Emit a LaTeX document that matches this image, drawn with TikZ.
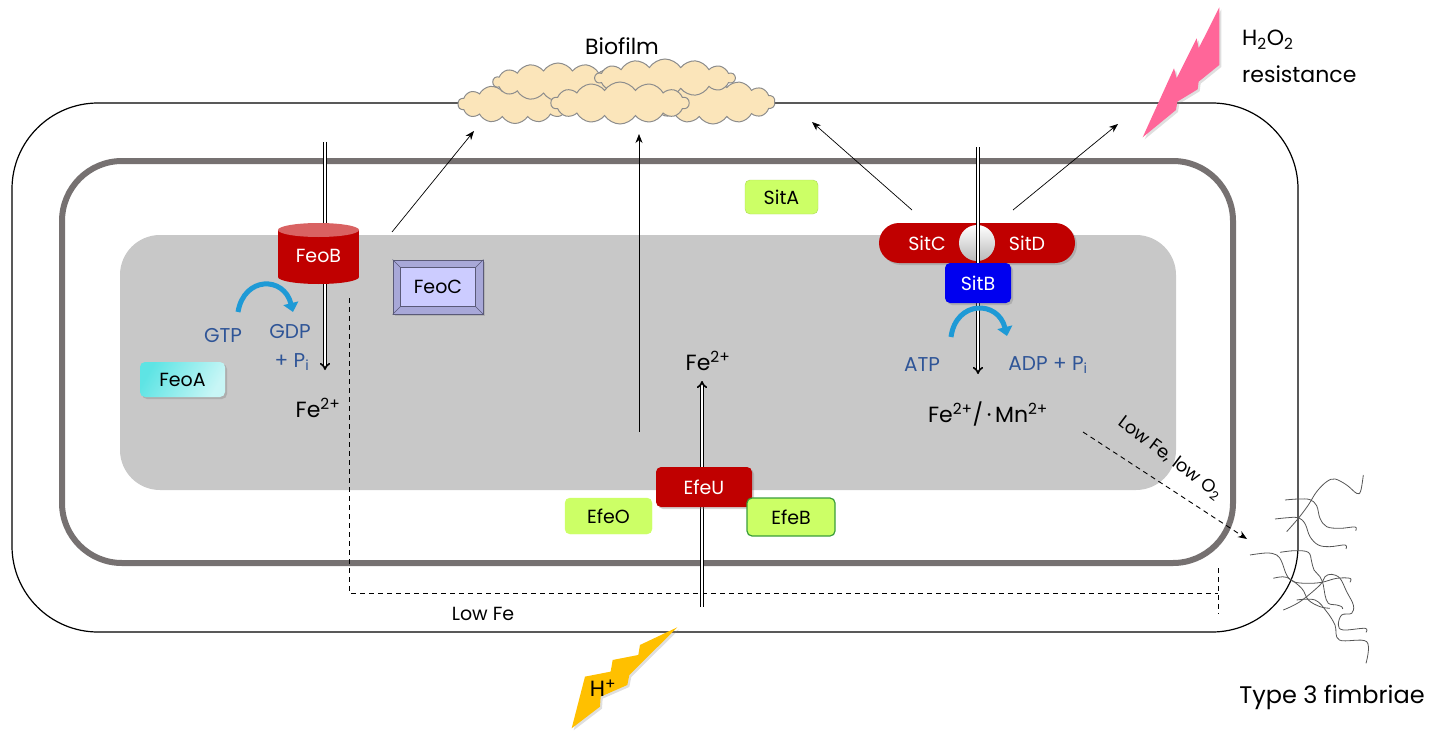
\documentclass[tikz,border=0pt]{standalone}
\usepackage{fontspec}
\setmainfont{Poppins}
\usetikzlibrary{arrows.meta,shapes.symbols,shadows,calc}

\definecolor{cyto}{HTML}{C8C8C8}
\definecolor{membr}{HTML}{767171}
\definecolor{protred}{HTML}{C00000}
\definecolor{protredtop}{HTML}{D96262}
\definecolor{sitblue}{HTML}{0000F0}
\definecolor{lime}{HTML}{CCFF66}
\definecolor{limeedge}{HTML}{3A9E3A}
\definecolor{feocfill}{HTML}{CCCCFF}
\definecolor{feocbevel}{HTML}{A8A8D8}
\definecolor{feocedge}{HTML}{5A5A78}
\definecolor{feoacyan}{HTML}{5EE4E4}
\definecolor{feoalight}{HTML}{C8F6F6}
\definecolor{nuctext}{HTML}{2F5597}
\definecolor{arcblue}{HTML}{1E9AD6}
\definecolor{cloudfill}{HTML}{FBE5BA}
\definecolor{cloudline}{HTML}{8C8C8C}
\definecolor{boltpink}{HTML}{FF6699}
\definecolor{boltyellow}{HTML}{FFC000}
\definecolor{pilus}{HTML}{555555}

\begin{document}
\begin{tikzpicture}[x=1pt,y=-1pt,
  txt/.style={inner sep=0pt, font=\fontsize{22}{24}\selectfont},
  boxtxt/.style={font=\fontsize{19}{21}\selectfont},
  nuc/.style={inner sep=0pt, text=nuctext, font=\fontsize{20}{22}\selectfont},
  protbox/.style={boxtxt, minimum width=#1, inner sep=0pt, rounded corners=5pt},
  redbox/.style={protbox=#1, fill=protred, text=white,
    drop shadow={opacity=0.35, shadow xshift=2pt, shadow yshift=-2pt}},
  limebox/.style={protbox=#1, fill=lime, draw=lime!85!black, line width=0.4pt},
  thinarrow/.style={line width=0.7pt, -{Stealth[length=9pt,width=7pt]}},
  channel/.style={double=white, double distance=1.6pt, line width=1.6pt, -{Implies}},
  hydro/.style={arcblue, line width=5pt, -{Triangle[length=9pt,width=15pt]}},
  dashline/.style={line width=0.9pt, dash pattern=on 5pt off 4pt},
  biofilmcloud/.style={cloud, cloud puffs=14, cloud puff arc=115, cloud ignores aspect,
    draw=cloudline, fill=cloudfill, line width=1pt, inner sep=0pt},
  pilusline/.style={pilus, line width=0.8pt, smooth, tension=0.6}
]
\useasboundingbox (0,0) rectangle (1429,733);

% cytoplasm, inner membrane and outer cell envelope
\fill[cyto, rounded corners=40pt] (120,235) rectangle (1176,490);
\draw[membr, line width=6pt, rounded corners=60pt] (62,161) rectangle (1233,563);
\draw[line width=1.2pt, rounded corners=86pt] (12,103) rectangle (1298,632);

% biofilm on the cell surface
\node[biofilmcloud, minimum width=114pt, minimum height=39pt] (cA) at (515,104) {};
\node[biofilmcloud, minimum width=124pt, minimum height=44pt] (cD) at (713,102) {};
\node[biofilmcloud, minimum width=130pt, minimum height=38pt] (cB) at (558,82) {};
\node[biofilmcloud, minimum width=140pt, minimum height=38pt] (cC) at (665,78) {};
\node[biofilmcloud, minimum width=138pt, minimum height=42pt] (cE) at (620,103) {};
\node[txt] (biofilm) at (622,46) {Biofilm};

% H2O2 bolt
\begin{scope}[shift={(1100,0)}, x=0.3333pt, y=-0.3333pt]
  \fill[boltpink, drop shadow={opacity=0.25, shadow xshift=2pt, shadow yshift=-2pt}]
    (358,22) -- (358,195) -- (296,245) -- (293,268) -- (232,305) -- (228,330)
    -- (128,412) -- (222,205) -- (230,235) -- (290,115) -- (296,145) -- cycle;
\end{scope}
\node[txt, anchor=west] (h2o2) at (1242,40) {H\textsubscript{2}O\textsubscript{2}};
\node[txt, anchor=west] (resist) at (1242,74) {resistance};

% H+ bolt
\begin{scope}[shift={(540,330)}, x=0.3333pt, y=-0.3333pt]
  \fill[boltyellow, drop shadow={opacity=0.25, shadow xshift=2pt, shadow yshift=-2pt}]
    (412,892) -- (300,945) -- (295,975) -- (218,990) -- (212,1025) -- (135,1040)
    -- (95,1195) -- (180,1130) -- (182,1100) -- (262,1065) -- (268,1035) -- cycle;
\end{scope}
\node[txt] (hplus) at (603,688) {H\textsuperscript{+}};

% ---------- Feo system ----------
\coordinate (feotop) at (325,142);
\coordinate (feoend) at (325,370);
\draw[channel] (feotop) -- (feoend);
\node[boxtxt, text=white, minimum width=81pt, minimum height=47pt, inner sep=0pt] (feob) at (318.5,256) {};
\fill[protred] (278,230) rectangle (359,277);
\fill[protred] (318.5,277) ellipse [x radius=40.5pt, y radius=7pt];
\fill[protredtop] (318.5,230) ellipse [x radius=40.5pt, y radius=7pt];
\node[boxtxt, text=white, inner sep=0pt] at (feob.center) {FeoB};

\node[boxtxt, fill=feocbevel, draw=feocedge, line width=0.8pt, minimum width=90pt, minimum height=54pt,
  inner sep=0pt, drop shadow={opacity=0.3, shadow xshift=2pt, shadow yshift=-2pt}] (feoc) at (438,287) {};
\draw[feocedge, line width=0.6pt, fill=feocfill] ($(feoc.north west)+(8,8)$) rectangle ($(feoc.south east)+(-8,-8)$);
\draw[feocedge, line width=0.6pt]
  (feoc.north west) -- ++(8,8) (feoc.north east) -- ++(-8,8)
  (feoc.south west) -- ++(8,-8) (feoc.south east) -- ++(-8,-8);
\node[boxtxt, inner sep=0pt] at (feoc.center) {FeoC};

\node[protbox=85pt, minimum height=35pt, left color=feoacyan, right color=feoalight, shading angle=60,
  drop shadow={opacity=0.35, shadow xshift=2pt, shadow yshift=-2pt}] (feoa) at (182.5,379.5) {FeoA};

\coordinate (gtpS) at (238,312);
\coordinate (gtpE) at (293,312);
\draw[hydro] (gtpS) .. controls (244,276) and (284,276) .. (gtpE);
\node[nuc] (gtp) at (223,336) {GTP};
\node[nuc] (gdp) at (290,332) {GDP};
\node[nuc] (pi1) at (292,362) {+ P\textsubscript{i}};

\node[txt] (fe1) at (318,408) {Fe\textsuperscript{2+}};

% low-iron regulation path
\coordinate (lf1) at (349,298);
\coordinate (lf2) at (349,593);
\coordinate (lf3) at (1218,593);
\coordinate (lfa) at (1218,568);
\coordinate (lfb) at (1218,614);
\draw[dashline] (lf1) -- (lf2) -- (lf3);
\draw[dashline] (lfa) -- (lfb);
\node[txt, font=\fontsize{19}{21}\selectfont] (lowfe) at (483,614) {Low Fe};

% biofilm arrows
\coordinate (bA) at (392,232);
\coordinate (bAe) at (474,131);
\draw[thinarrow] (bA) -- (bAe);
\coordinate (bB) at (639,432);
\coordinate (bBe) at (639,134);
\draw[thinarrow] (bB) -- (bBe);
\coordinate (bC) at (912,210);
\coordinate (bCe) at (812,122);
\draw[thinarrow] (bC) -- (bCe);
\coordinate (bD) at (1013,210);
\coordinate (bDe) at (1118,124);
\draw[thinarrow] (bD) -- (bDe);

% ---------- Sit system ----------
\node[limebox=73pt, minimum height=34pt] (sita) at (781.5,197) {SitA};

\node[protbox=196pt, minimum height=40pt, rounded corners=20pt, fill=protred,
  drop shadow={opacity=0.35, shadow xshift=2pt, shadow yshift=-2pt}] (sitcd) at (977,243) {};
\node[circle, minimum size=36pt, inner sep=0pt, top color=white, bottom color=gray!55] (pore) at (977,243) {};
\node[boxtxt, text=white, inner sep=0pt] (sitc) at (927,243) {SitC};
\node[boxtxt, text=white, inner sep=0pt] (sitd) at (1027,243) {SitD};
\coordinate (sittop) at (978,147);
\coordinate (sitend) at (978,374);
\draw[channel] (sittop) -- (sitend);
\node[protbox=66pt, minimum height=40pt, fill=sitblue, text=white,
  drop shadow={opacity=0.35, shadow xshift=2pt, shadow yshift=-2pt}] (sitb) at (978,283) {SitB};

\coordinate (atpS) at (951,337);
\coordinate (atpE) at (1007,336);
\draw[hydro] (atpS) .. controls (956,300) and (998,300) .. (atpE);
\node[nuc] (atp) at (922,365) {ATP};
\node[nuc] (adp) at (1048,365) {ADP + P\textsubscript{i}};

\node[txt] (femn) at (988,414) {Fe\textsuperscript{2+}/\,·\,Mn\textsuperscript{2+}};

% type 3 fimbriae induction
\coordinate (fimS) at (1083,432);
\coordinate (fimE) at (1247,539);
\draw[dashline, -{Stealth[length=9pt,width=7pt]}] (fimS) -- (fimE);
\node[inner sep=0pt, font=\fontsize{18}{20}\selectfont, rotate=-37] (lowfeo) at (1170,458) {Low Fe, low O\textsubscript{2}};

\begin{scope}[shift={(1240,465)}, x=0.3333pt, y=-0.3333pt]
  \draw[pilusline] plot coordinates {(135,105) (175,102) (210,104) (230,122) (240,160) (260,185) (300,190) (345,186) (347,197)};
  \draw[pilusline] plot coordinates {(140,200) (175,160) (205,120) (230,80) (260,50) (285,42) (320,60) (350,85) (362,78) (370,30)};
  \draw[pilusline] plot coordinates {(105,162) (145,158) (175,158) (195,176) (210,215) (235,240) (270,245) (315,240) (318,252)};
  \draw[pilusline] plot coordinates {(30,270) (80,264) (110,270) (125,290) (140,330) (160,350) (200,355) (245,352) (290,340) (330,340) (330,352)};
  \draw[pilusline] plot coordinates {(120,262) (165,257) (205,262) (215,290) (222,315) (240,335) (250,360) (255,390) (265,415) (290,420) (305,425) (308,432)};
  \draw[pilusline] plot coordinates {(100,340) (140,337) (185,370) (205,405) (240,425) (270,430)};
  \draw[pilusline] plot coordinates {(130,435) (180,410) (240,360) (255,335) (275,328) (300,340) (320,380) (340,420) (335,445) (305,450) (295,480) (310,495) (375,490) (378,502)};
  \draw[pilusline] plot coordinates {(170,405) (225,405) (260,440) (285,480) (298,525) (380,530) (378,595)};
\end{scope}
\node[txt, font=\fontsize{24}{26}\selectfont] (fimbriae) at (1332,697) {Type 3 fimbriae};

% ---------- Efe system ----------
\coordinate (efebot) at (702,607);
\coordinate (efetop) at (702,381);
\draw[channel] (efebot) -- (efetop);
\node[redbox=96pt, minimum height=40pt] (efeu) at (704,487) {EfeU};
\node[limebox=87pt, minimum height=36pt, draw=lime] (efeo) at (608.5,516) {EfeO};
\node[limebox=88pt, minimum height=38pt, draw=limeedge, line width=1.2pt] (efeb) at (791,517) {EfeB};
\node[txt] (fe2) at (708,361) {Fe\textsuperscript{2+}};

\end{tikzpicture}
\end{document}
